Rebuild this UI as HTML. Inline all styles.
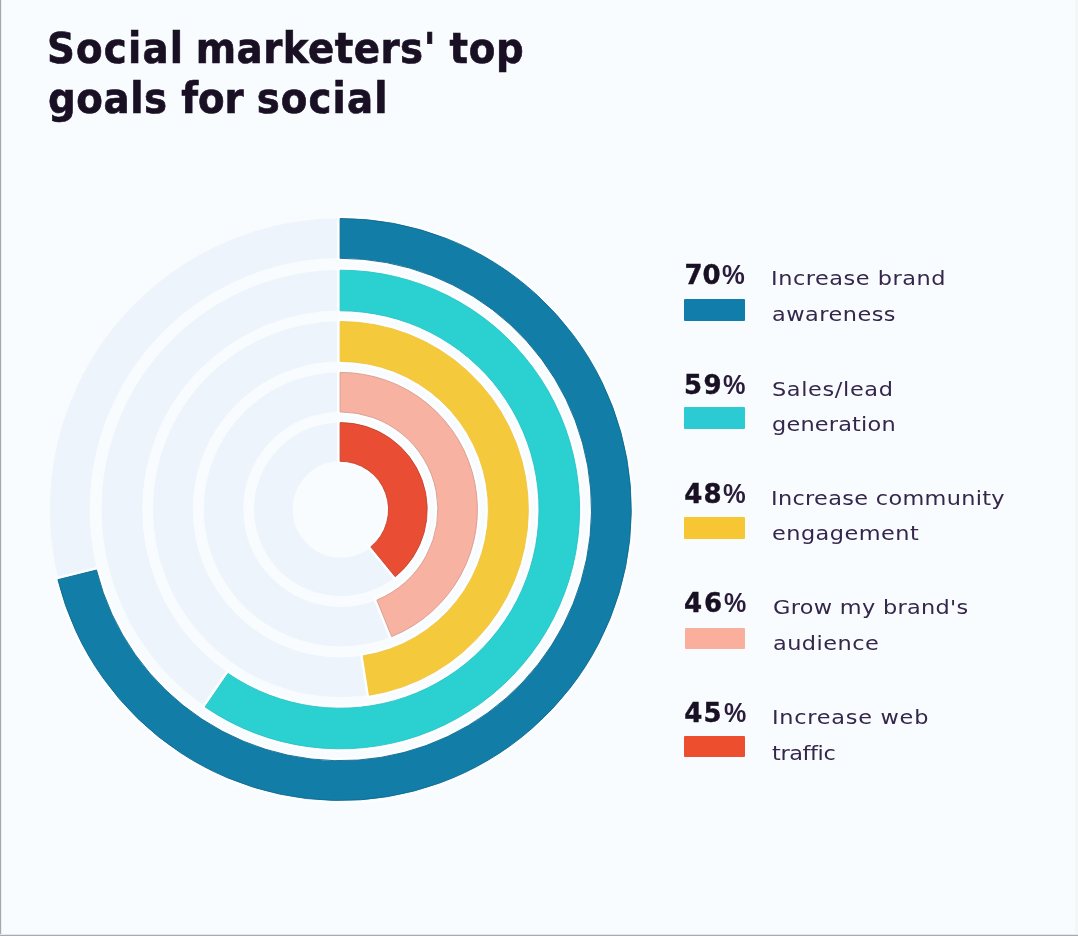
<!DOCTYPE html>
<html lang="en">
<head>
<meta charset="utf-8">
<title>Social marketers' top goals for social</title>
<style>
html,body{margin:0;padding:0;}
body{width:1078px;height:936px;background:#f8fcfe;position:relative;overflow:hidden;
 font-family:"Liberation Sans","DejaVu Sans",sans-serif;color:#1a1024;}
/* faint scan-like borders of the reference */
.edge-l{position:absolute;left:0;top:0;width:2px;height:936px;background:linear-gradient(90deg,#a4a9af 0,#a4a9af 1px,#e9edf1 1px,#e9edf1 2px);}
.edge-b{position:absolute;left:0;top:934px;width:1078px;height:2px;background:linear-gradient(180deg,#e3e7eb 0,#e3e7eb 1px,#a6abb1 1px,#a6abb1 2px);}
.edge-r{position:absolute;left:1075px;top:0;width:3px;height:936px;background:#f3f7f7;}
h1,p{margin:0;}
.tl{position:absolute;white-space:pre;font:bold 43px 'DejaVu Sans','Liberation Sans',sans-serif;line-height:1;color:#1a1024;
 -webkit-text-stroke:0.7px #1a1024;transform:scaleX(0.9);transform-origin:0 0;}
.pct{position:absolute;white-space:pre;font:bold 26px 'DejaVu Sans','Liberation Sans',sans-serif;line-height:1;color:#1a1024;-webkit-text-stroke:0.4px #1a1024;}
.pct .q{display:inline-block;font:bold 27px 'Liberation Sans','DejaVu Sans',sans-serif;line-height:1;color:#2a1c3a;-webkit-text-stroke:0;transform-origin:0 100%;}
.lab span{position:absolute;white-space:pre;font:20px 'DejaVu Sans','Liberation Sans',sans-serif;line-height:1;color:#35264b;
 transform:scaleX(1.12);transform-origin:0 0;}
.sw{position:absolute;display:block;border-radius:1px;}
svg.chart{position:absolute;left:0;top:0;}
.tracks circle{fill:none;stroke:#edf4fb;}
.halo path{fill:none;stroke:#fcfeff;stroke-width:6;stroke-linejoin:round;}
.arcs path{stroke-width:0.9;stroke-linejoin:round;}
</style>
</head>
<body>
<div class="edge-r"></div><div class="edge-l"></div><div class="edge-b"></div>
<h1>
<div class="tl" style="left:46.5px;top:26.50px"><span style="letter-spacing:1.333px">Social</span> <span style="letter-spacing:0.556px;margin-left:-2.16px">marketers&#39;</span> <span style="letter-spacing:0.722px;margin-left:0.03px">top</span></div>
<div class="tl" style="left:47.8px;top:76.50px"><span style="letter-spacing:0.667px">goals</span> <span style="letter-spacing:-0.111px;margin-left:0.01px">for</span> <span style="letter-spacing:1.222px;margin-left:-0.21px">social</span></div>
</h1>
<svg class="chart" width="1078" height="936" viewBox="0 0 1078 936">
<g class="tracks">
<circle cx="340.9" cy="509.3" r="271.10" stroke-width="39.80"/>
<circle cx="340.9" cy="509.3" r="219.00" stroke-width="40.60"/>
<circle cx="340.9" cy="509.3" r="168.05" stroke-width="39.90"/>
<circle cx="340.9" cy="509.3" r="117.35" stroke-width="39.50"/>
<circle cx="340.9" cy="509.3" r="67.55" stroke-width="38.70"/>
</g>
<g class="halo">
<path d="M340.10 218.50A291.0 291.0 0 1 1 57.88 579.65L96.51 570.06A251.2 251.2 0 1 0 340.10 258.30Z"/>
<path d="M340.10 270.20A239.3 239.3 0 1 1 205.10 706.95L228.04 673.45A198.7 198.7 0 1 0 340.10 310.80Z"/>
<path d="M340.10 321.50A188.0 188.0 0 0 1 369.39 695.24L363.21 655.82A148.1 148.1 0 0 0 340.10 361.40Z"/>
<path d="M340.10 372.40A137.1 137.1 0 0 1 391.66 636.62L376.86 599.99A97.6 97.6 0 0 0 340.10 411.90Z"/>
<path d="M340.10 422.60A86.9 86.9 0 0 1 395.28 576.79L370.80 546.83A48.2 48.2 0 0 0 340.10 461.30Z"/>
</g>
<g class="arcs">
<path d="M340.10 218.50A291.0 291.0 0 1 1 57.88 579.65L96.51 570.06A251.2 251.2 0 1 0 340.10 258.30Z" fill="#127da7" stroke="#0c6a90"/>
<path d="M340.10 270.20A239.3 239.3 0 1 1 205.10 706.95L228.04 673.45A198.7 198.7 0 1 0 340.10 310.80Z" fill="#2bd0d1" stroke="#27c3c6"/>
<path d="M340.10 321.50A188.0 188.0 0 0 1 369.39 695.24L363.21 655.82A148.1 148.1 0 0 0 340.10 361.40Z" fill="#f5c93c" stroke="#f1c440"/>
<path d="M340.10 372.40A137.1 137.1 0 0 1 391.66 636.62L376.86 599.99A97.6 97.6 0 0 0 340.10 411.90Z" fill="#f7b2a2" stroke="#d89a8c"/>
<path d="M340.10 422.60A86.9 86.9 0 0 1 395.28 576.79L370.80 546.83A48.2 48.2 0 0 0 340.10 461.30Z" fill="#e94e35" stroke="#c4432f"/>
</g>
</svg>
<div class="legend">
<div class="item">
<div class="pct" style="left:684.4px;top:261.71px"><span style="letter-spacing:0.1px">70</span><span class="q" style="transform:scaleX(0.95);margin-left:1.47px">%</span></div>
<i class="sw" style="left:684.2px;top:298.6px;width:60.8px;height:22.6px;background:#107dab"></i>
<p class="lab"><span style="left:771.26px;top:268.0px;letter-spacing:0.479px">Increase brand</span>
<span style="left:772.38px;top:304.0px;letter-spacing:0.435px">awareness</span></p>
</div>
<div class="item">
<div class="pct" style="left:684.1px;top:371.71px"><span style="letter-spacing:1.4px">59</span><span class="q" style="transform:scaleX(0.9364);margin-left:0.19px">%</span></div>
<i class="sw" style="left:684.2px;top:406.9px;width:60.8px;height:22.3px;background:#2ccbd3"></i>
<p class="lab"><span style="left:772.38px;top:378.5px;letter-spacing:0.575px">Sales/lead</span>
<span style="left:772.38px;top:413.5px;letter-spacing:0.177px">generation</span></p>
</div>
<div class="item">
<div class="pct" style="left:684.2px;top:481.31px"><span style="letter-spacing:1.3px">48</span><span class="q" style="transform:scaleX(0.9455);margin-left:0.27px">%</span></div>
<i class="sw" style="left:684.3px;top:517.2px;width:60.3px;height:22.3px;background:#f6c733"></i>
<p class="lab"><span style="left:771.26px;top:487.5px;letter-spacing:0.283px">Increase community</span>
<span style="left:772.38px;top:523.3px;letter-spacing:0.415px">engagement</span></p>
</div>
<div class="item">
<div class="pct" style="left:684.0px;top:590.31px"><span style="letter-spacing:1.9px">46</span><span class="q" style="transform:scaleX(0.9273);margin-left:-0.32px">%</span></div>
<i class="sw" style="left:685.0px;top:627.9px;width:59.8px;height:21.4px;background:#faae9c"></i>
<p class="lab"><span style="left:772.88px;top:597.2px;letter-spacing:0.283px">Grow my brand&#39;s</span>
<span style="left:772.88px;top:633.0px;letter-spacing:0.423px">audience</span></p>
</div>
<div class="item">
<div class="pct" style="left:684.2px;top:700.31px"><span style="letter-spacing:1.3px">45</span><span class="q" style="transform:scaleX(0.9273);margin-left:0.70px">%</span></div>
<i class="sw" style="left:684.3px;top:735.8px;width:60.5px;height:21.5px;background:#ec4e2e"></i>
<p class="lab"><span style="left:771.56px;top:707.0px;letter-spacing:0.659px">Increase web</span>
<span style="left:772.48px;top:743.0px;letter-spacing:-0.345px">traffic</span></p>
</div>
</div>
</body>
</html>
